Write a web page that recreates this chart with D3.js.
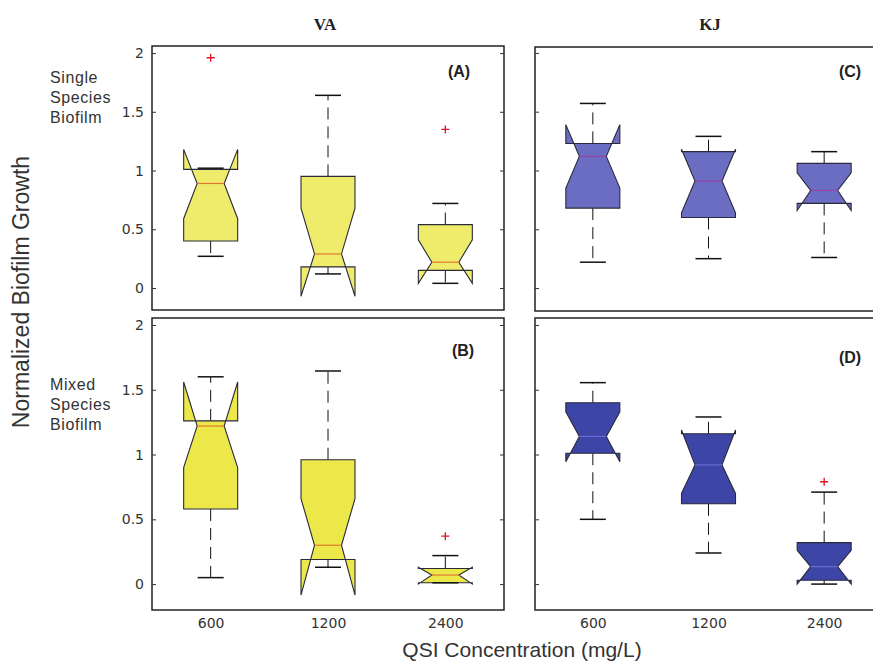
<!DOCTYPE html>
<html>
<head>
<meta charset="utf-8">
<script src="https://cdn.jsdelivr.net/npm/d3@7"></script>
<style>
  html, body { margin: 0; padding: 0; background: #fff; }
  svg { display: block; }
</style>
</head>
<body>
<svg id="chart" width="873" height="662"></svg>
<script>
// QSI concentrations along the x axis
const categories = ["600", "1200", "2400"];
const yTicks = [0, 0.5, 1, 1.5, 2];
const yTickLabels = ["0", "0.5", "1", "1.5", "2"];

// Box statistics per concentration:
// [lower whisker, Q1, median, Q3, upper whisker, notch low, notch high]
const statColumns = ["lw", "q1", "med", "q3", "uw", "nlo", "nhi"];

// (A) VA, single species biofilm
const vaSingle = [
  [0.27, 0.40, 0.89, 1.01, 1.02, 0.59, 1.18],
  [0.12, 0.18, 0.29, 0.95, 1.64, -0.07, 0.68],
  [0.04, 0.15, 0.22, 0.54, 0.72, 0.04, 0.41]
];
const vaSingleOutliers = [[1.96], [], [1.35]];

// (B) VA, mixed species biofilm
const vaMixed = [
  [0.05, 0.58, 1.22, 1.26, 1.60, 0.90, 1.56],
  [0.13, 0.19, 0.30, 0.96, 1.645, -0.085, 0.66],
  [0.01, 0.01, 0.07, 0.12, 0.22, 0.00, 0.13]
];
const vaMixedOutliers = [[], [], [0.37]];

// (C) KJ, single species biofilm
const kjSingle = [
  [0.22, 0.68, 1.12, 1.23, 1.57, 0.85, 1.39],
  [0.25, 0.60, 0.91, 1.16, 1.29, 0.64, 1.18],
  [0.26, 0.72, 0.83, 1.06, 1.16, 0.66, 0.98]
];
const kjSingleOutliers = [[], [], []];

// (D) KJ, mixed species biofilm
const kjMixed = [
  [0.50, 1.01, 1.14, 1.40, 1.555, 0.945, 1.33],
  [0.24, 0.62, 0.92, 1.16, 1.29, 0.70, 1.19],
  [0.00, 0.03, 0.135, 0.32, 0.71, 0.00, 0.26]
];
const kjMixedOutliers = [[], [], [0.79]];

const svg = d3.select("#chart");

const toStats = rows => rows.map(r => Object.fromEntries(statColumns.map((k, i) => [k, r[i]])));

const panels = [
  { tag: "(A)", rows: vaSingle, outliers: vaSingleOutliers, fill: "#efec6c", median: "#e0782c",
    x0: 152, x1: 504, top: 46, bottom: 310, dom: [-0.187, 2.06], yLabels: true, xLabels: false, tagX: 459, tagY: 77 },
  { tag: "(B)", rows: vaMixed, outliers: vaMixedOutliers, fill: "#ece84a", median: "#e0782c",
    x0: 152, x1: 504, top: 318, bottom: 610, dom: [-0.2, 2.054], yLabels: true, xLabels: true, tagX: 463, tagY: 356 },
  { tag: "(C)", rows: kjSingle, outliers: kjSingleOutliers, fill: "#6a6dc2", median: "#9a3fa8",
    x0: 152 + 383, x1: 882, top: 47, bottom: 311, dom: [-0.195, 2.05], yLabels: false, xLabels: false, tagX: 850, tagY: 77 },
  { tag: "(D)", rows: kjMixed, outliers: kjMixedOutliers, fill: "#3d46a7", median: "#6a6ad6",
    x0: 152 + 383, x1: 882, top: 318, bottom: 610, dom: [-0.2, 2.054], yLabels: false, xLabels: true, tagX: 850, tagY: 363 }
];

const boxHalf = 27, notchHalf = 13.5, capHalf = 13;

panels.forEach(p => {
  const x = d3.scalePoint().domain(categories).range([p.x0, p.x1]).padding(0.5);
  const y = d3.scaleLinear().domain(p.dom).range([p.bottom, p.top]);
  const g = svg.append("g");

  // frame
  g.append("rect")
    .attr("x", p.x0).attr("y", p.top)
    .attr("width", p.x1 - p.x0).attr("height", p.bottom - p.top)
    .attr("fill", "none").attr("stroke", "#222").attr("stroke-width", 1.5);

  // left and right ticks, pointing inward
  const leftAxis = d3.axisLeft(y).tickValues(yTicks).tickSize(-4)
    .tickFormat((d, i) => p.yLabels ? yTickLabels[i] : "").tickPadding(8);
  const la = g.append("g").attr("transform", `translate(${p.x0},0)`).call(leftAxis);
  la.select(".domain").remove();
  la.selectAll("line").attr("stroke", "#333");
  la.selectAll("text").attr("font-family", "'DejaVu Sans', sans-serif").attr("font-size", 14).attr("fill", "#333");

  const rightAxis = d3.axisRight(y).tickValues(yTicks).tickSize(-4).tickFormat("");
  const ra = g.append("g").attr("transform", `translate(${p.x1},0)`).call(rightAxis);
  ra.select(".domain").remove();
  ra.selectAll("line").attr("stroke", "#333");

  if (p.xLabels) {
    const bottomAxis = d3.axisBottom(x).tickSize(0).tickPadding(8);
    const ba = g.append("g").attr("transform", `translate(0,${p.bottom})`).call(bottomAxis);
    ba.select(".domain").remove();
    ba.selectAll("text").attr("font-family", "'DejaVu Sans', sans-serif").attr("font-size", 14).attr("fill", "#333");
  }

  const stats = toStats(p.rows);
  stats.forEach((s, i) => {
    const cx = x(categories[i]);
    const bg = g.append("g");

    // whiskers
    const dash = "12,7";
    if (s.uw > s.q3) {
      bg.append("line").attr("x1", cx).attr("x2", cx).attr("y1", y(s.q3)).attr("y2", y(s.uw))
        .attr("stroke", "#111").attr("stroke-dasharray", dash);
    }
    if (s.lw < s.q1) {
      bg.append("line").attr("x1", cx).attr("x2", cx).attr("y1", y(s.q1)).attr("y2", y(s.lw))
        .attr("stroke", "#111").attr("stroke-dasharray", dash);
    }

    // notched box
    const pts = [
      [cx - boxHalf, s.q3], [cx - boxHalf, s.nhi], [cx - notchHalf, s.med],
      [cx - boxHalf, s.nlo], [cx - boxHalf, s.q1], [cx + boxHalf, s.q1],
      [cx + boxHalf, s.nlo], [cx + notchHalf, s.med], [cx + boxHalf, s.nhi],
      [cx + boxHalf, s.q3]
    ].map(([px, v]) => [px, y(v)]);
    bg.append("path")
      .attr("d", d3.line()(pts) + "Z")
      .attr("fill", p.fill)
      .attr("stroke", "#2a2a3a").attr("stroke-width", 1.1)
      .attr("stroke-linejoin", "miter");

    // median
    bg.append("line")
      .attr("x1", cx - notchHalf).attr("x2", cx + notchHalf)
      .attr("y1", y(s.med)).attr("y2", y(s.med))
      .attr("stroke", p.median).attr("stroke-width", 1.2);

    // whisker caps
    [s.lw, s.uw].forEach(v => {
      bg.append("line").attr("x1", cx - capHalf).attr("x2", cx + capHalf)
        .attr("y1", y(v)).attr("y2", y(v))
        .attr("stroke", "#111").attr("stroke-width", 1.5);
    });

    // outliers
    p.outliers[i].forEach(v => {
      bg.append("path")
        .attr("d", `M${cx - 4},${y(v)}H${cx + 4}M${cx},${y(v) - 4}V${y(v) + 4}`)
        .attr("stroke", "#e0101e").attr("stroke-width", 1.3);
    });
  });

  // panel tag
  g.append("text").attr("x", p.tagX).attr("y", p.tagY)
    .attr("text-anchor", "middle")
    .attr("font-family", "'Liberation Sans', Arial, sans-serif")
    .attr("font-weight", "bold").attr("font-size", 16).attr("fill", "#222")
    .text(p.tag);
});

// column titles
[["VA", 325], ["KJ", 710]].forEach(([t, cx]) => {
  svg.append("text").attr("x", cx).attr("y", 30).attr("text-anchor", "middle")
    .attr("font-family", "'Liberation Serif', 'Times New Roman', serif")
    .attr("font-weight", "bold").attr("font-size", 17).attr("fill", "#222").text(t);
});

// row labels
const rowLabel = (lines, y0) => {
  const t = svg.append("text").attr("x", 50).attr("y", y0)
    .attr("font-family", "'Liberation Sans', Arial, sans-serif")
    .attr("font-size", 16).attr("letter-spacing", 0.6).attr("fill", "#333");
  lines.forEach((l, i) => t.append("tspan").attr("x", 50).attr("dy", i === 0 ? 0 : 20).text(l));
};
rowLabel(["Single", "Species", "Biofilm"], 83);
rowLabel(["Mixed", "Species", "Biofilm"], 390);

// axis titles
svg.append("text")
  .attr("transform", "translate(29,292) rotate(-90)")
  .attr("text-anchor", "middle")
  .attr("font-family", "'Liberation Sans', Arial, sans-serif")
  .attr("font-size", 23).attr("fill", "#333")
  .text("Normalized Biofilm Growth");

svg.append("text")
  .attr("x", 522).attr("y", 657)
  .attr("text-anchor", "middle")
  .attr("font-family", "'Liberation Sans', Arial, sans-serif")
  .attr("font-size", 21).attr("fill", "#333")
  .text("QSI Concentration (mg/L)");
</script>
</body>
</html>
